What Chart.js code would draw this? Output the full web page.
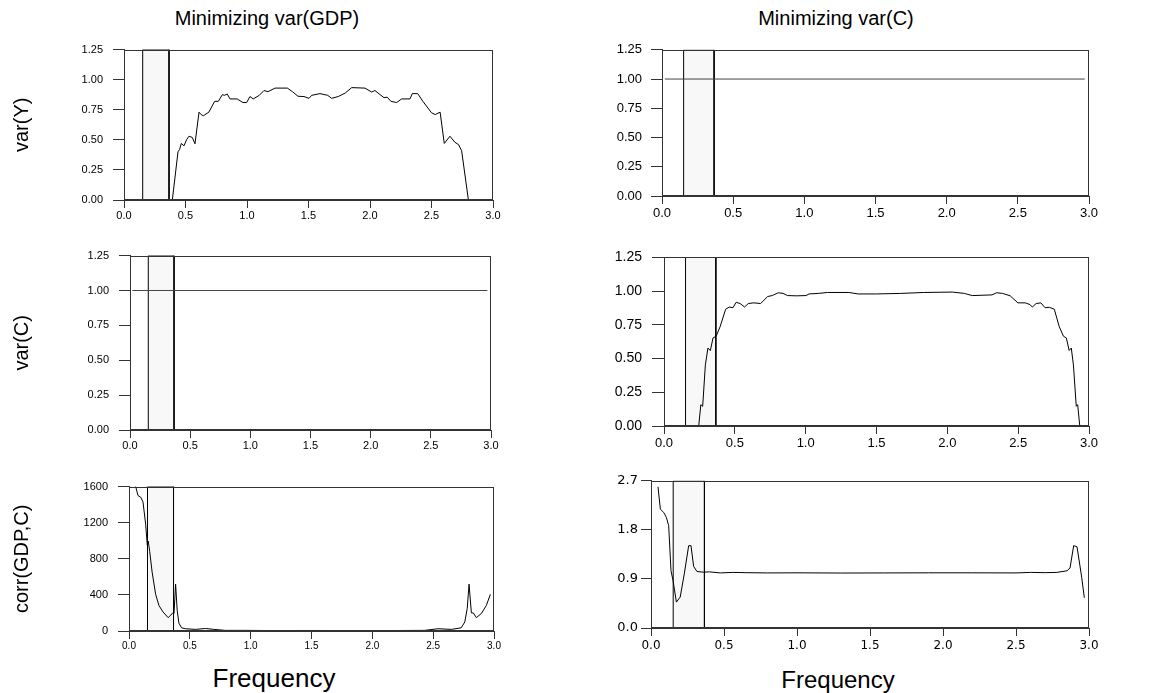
<!DOCTYPE html>
<html>
<head>
<meta charset="utf-8">
<script src="https://cdn.jsdelivr.net/npm/chart.js@4.4.1/dist/chart.umd.min.js"></script>
<style>
  html, body { margin: 0; padding: 0; background: #fff; }
  body { width: 1151px; height: 693px; position: relative; overflow: hidden; font-family: "Liberation Sans", Arial, sans-serif; }
  .panel { position: absolute; }
  .lbl { position: absolute; color: #000; white-space: nowrap; transform: translate(-50%, -50%); font-family: "Liberation Sans", Arial, sans-serif; }
</style>
</head>
<body>
<div class="lbl" style="left:267px; top:18px; font-size:20px;">Minimizing var(GDP)</div>
<div class="lbl" style="left:836px; top:18px; font-size:20px;">Minimizing var(C)</div>
<div class="lbl" style="left:274px; top:678px; font-size:26px;">Frequency</div>
<div class="lbl" style="left:838px; top:680px; font-size:24px;">Frequency</div>

<div class="panel" style="left:7px; top:33px;"><canvas id="p1" width="502" height="193"></canvas></div>
<div class="panel" style="left:592px; top:33px;"><canvas id="p2" width="513" height="189"></canvas></div>
<div class="panel" style="left:7px; top:239px;"><canvas id="p3" width="500" height="217"></canvas></div>
<div class="panel" style="left:592px; top:239px;"><canvas id="p4" width="513" height="213"></canvas></div>
<div class="panel" style="left:7px; top:470px;"><canvas id="p5" width="503" height="187"></canvas></div>
<div class="panel" style="left:592px; top:470px;"><canvas id="p6" width="513" height="184"></canvas></div>

<script>
// ---------- data ----------
const xTicks = [0, 0.5, 1.0, 1.5, 2.0, 2.5, 3.0];
const yTicksVar = [0, 0.25, 0.5, 0.75, 1.0, 1.25];
const yTicksCorrGdp = [0, 400, 800, 1200, 1600];
const yTicksCorrC = [0, 0.9, 1.8, 2.7];
const band = [0.152, 0.366];

// var(Y) when minimizing var(GDP)
const freqVarYgdp = [0.02, 0.37, 0.393, 0.439, 0.452, 0.466, 0.488, 0.508, 0.528, 0.555, 0.577, 0.61, 0.627, 0.645, 0.69, 0.737, 0.767, 0.80, 0.815, 0.84, 0.862, 0.92, 0.967, 0.997, 1.024, 1.05, 1.10, 1.138, 1.17, 1.228, 1.328, 1.37, 1.415, 1.463, 1.504, 1.526, 1.593, 1.656, 1.688, 1.742, 1.80, 1.851, 1.959, 2.014, 2.04, 2.114, 2.14, 2.17, 2.217, 2.257, 2.325, 2.344, 2.388, 2.43, 2.50, 2.53, 2.57, 2.604, 2.65, 2.69, 2.72, 2.745, 2.80, 2.97];
const varYgdp =     [0, 0, 0, 0.40, 0.42, 0.47, 0.45, 0.50, 0.53, 0.52, 0.467, 0.73, 0.71, 0.70, 0.73, 0.82, 0.82, 0.876, 0.87, 0.88, 0.84, 0.84, 0.81, 0.81, 0.86, 0.84, 0.87, 0.91, 0.90, 0.93, 0.93, 0.90, 0.862, 0.86, 0.845, 0.87, 0.884, 0.87, 0.845, 0.86, 0.89, 0.934, 0.93, 0.897, 0.91, 0.85, 0.855, 0.82, 0.81, 0.84, 0.84, 0.884, 0.884, 0.82, 0.725, 0.71, 0.73, 0.47, 0.53, 0.48, 0.46, 0.41, 0, 0];

// flat unit lines (var(Y) under min var(C), var(C) under min var(GDP))
const freqFlat = [0.02, 2.97];
const flatOne = [1.0, 1.0];

// var(C) when minimizing var(C)
const freqVarCc = [0.02, 0.245, 0.26, 0.273, 0.292, 0.31, 0.327, 0.346, 0.368, 0.396, 0.435, 0.461, 0.487, 0.509, 0.537, 0.569, 0.595, 0.634, 0.682, 0.732, 0.764, 0.807, 0.84, 0.872, 0.937, 1.002, 1.024, 1.089, 1.154, 1.305, 1.37, 1.5, 1.67, 1.833, 2.036, 2.12, 2.176, 2.315, 2.348, 2.39, 2.444, 2.498, 2.55, 2.584, 2.60, 2.627, 2.66, 2.69, 2.72, 2.755, 2.79, 2.82, 2.84, 2.86, 2.875, 2.89, 2.91, 2.92, 2.935, 2.97];
const varCc =     [0, 0, 0.158, 0.146, 0.453, 0.578, 0.559, 0.653, 0.665, 0.736, 0.866, 0.882, 0.877, 0.917, 0.908, 0.882, 0.908, 0.913, 0.908, 0.96, 0.967, 0.988, 0.983, 0.967, 0.965, 0.967, 0.979, 0.983, 0.99, 0.99, 0.979, 0.979, 0.983, 0.99, 0.993, 0.983, 0.967, 0.972, 0.988, 0.983, 0.965, 0.913, 0.913, 0.90, 0.882, 0.908, 0.913, 0.877, 0.88, 0.866, 0.736, 0.665, 0.653, 0.56, 0.578, 0.453, 0.146, 0.158, 0, 0];

// corr(GDP,C) when minimizing var(GDP)
const freqCorrGdp = [0.04, 0.055, 0.074, 0.096, 0.115, 0.137, 0.15, 0.158, 0.17, 0.19, 0.219, 0.246, 0.279, 0.322, 0.344, 0.36, 0.37, 0.383, 0.396, 0.41, 0.432, 0.464, 0.546, 0.628, 0.697, 0.79, 0.956, 1.2, 1.5, 1.8, 2.1, 2.43, 2.54, 2.65, 2.73, 2.76, 2.78, 2.795, 2.814, 2.83, 2.855, 2.896, 2.937, 2.97];
const corrGdp =     [1650, 1600, 1501, 1483, 1430, 1183, 954, 996, 883, 653, 406, 283, 212, 148, 177, 201, 195, 519, 230, 88, 35, 25, 18, 28, 18, 7, 7, 5, 6, 5, 5, 7, 25, 18, 35, 100, 250, 519, 201, 200, 148, 194, 283, 406];

// corr(GDP,C) when minimizing var(C)
const freqCorrC = [0.048, 0.064, 0.087, 0.105, 0.121, 0.137, 0.151, 0.174, 0.20, 0.228, 0.258, 0.274, 0.292, 0.315, 0.361, 0.40, 0.475, 0.56, 0.65, 0.8, 1.0, 1.3, 1.6, 1.9, 2.2, 2.5, 2.6, 2.7, 2.78, 2.85, 2.87, 2.895, 2.918, 2.95, 2.968];
const corrC =     [2.59, 2.18, 2.12, 2.03, 1.88, 1.05, 0.87, 0.475, 0.567, 0.993, 1.51, 1.51, 1.13, 1.036, 1.024, 1.03, 1.01, 1.02, 1.015, 1.01, 1.012, 1.008, 1.01, 1.012, 1.012, 1.01, 1.02, 1.015, 1.02, 1.05, 1.1, 1.51, 1.49, 0.93, 0.555];

// ---------- helpers ----------
const FONT = "'Liberation Sans', Arial, sans-serif";
const pairs = (xs, ys) => xs.map((x, i) => ({ x: x, y: ys[i] }));

const framePlugin = {
  id: 'frame',
  afterDatasetsDraw(chart, args, opts) {
    const a = chart.chartArea, c = chart.ctx;
    c.save();
    c.strokeStyle = opts.color || '#333';
    c.lineWidth = 1;
    const l = Math.round(a.left) + 0.5, t = Math.round(a.top) + 0.5;
    const r = Math.round(a.right) - 0.5, b = Math.round(a.bottom) - 0.5;
    c.strokeRect(l, t, r - l, b - t);
    c.restore();
  }
};

function makePanel(id, cfg) {
  const yMax = cfg.yTicks[cfg.yTicks.length - 1];
  const bandData = [
    { x: band[0], y: 0 }, { x: band[0], y: yMax },
    { x: band[1], y: yMax }, { x: band[1], y: 0 }
  ];
  new Chart(document.getElementById(id), {
    type: 'line',
    data: {
      datasets: [
        {
          data: pairs(cfg.fx, cfg.fy),
          borderColor: cfg.lineColor || '#000',
          borderWidth: 1,
          pointRadius: 0,
          tension: 0,
          fill: false,
          order: 1
        },
        {
          data: bandData,
          borderColor: '#000',
          borderWidth: 1,
          backgroundColor: '#f8f8f8',
          pointRadius: 0,
          tension: 0,
          fill: 'origin',
          order: 2
        }
      ]
    },
    options: {
      responsive: false,
      animation: false,
      devicePixelRatio: 1,
      events: [],
      layout: { padding: { top: 10, right: 16, left: 0, bottom: 0 } },
      plugins: { legend: { display: false }, tooltip: { enabled: false }, frame: { color: '#333' } },
      scales: {
        x: {
          type: 'linear',
          min: 0, max: 3,
          afterBuildTicks: s => { s.ticks = xTicks.map(v => ({ value: v })); },
          afterFit: s => { s.height = 26; },
          ticks: {
            autoSkip: false, maxRotation: 0, padding: cfg.xPad,
            color: '#000',
            font: { family: cfg.xFamily || FONT, size: cfg.xSize },
            callback: v => Number(v).toFixed(1)
          },
          grid: { drawOnChartArea: false, drawTicks: true, tickLength: 8, color: '#333' },
          border: { display: true, color: '#333', width: 1 }
        },
        y: {
          type: 'linear',
          min: 0, max: yMax,
          afterBuildTicks: s => { s.ticks = cfg.yTicks.map(v => ({ value: v })); },
          afterFit: s => { s.width = cfg.wy; },
          ticks: {
            autoSkip: false, padding: cfg.yPad,
            color: '#000',
            font: { family: cfg.yFamily || FONT, size: cfg.ySize },
            callback: v => Number(v).toFixed(cfg.dec)
          },
          grid: { drawOnChartArea: false, drawTicks: true, tickLength: cfg.yTick, color: '#333' },
          border: { display: true, color: '#333', width: 1 },
          title: {
            display: !!cfg.yTitle,
            text: cfg.yTitle || '',
            color: '#000',
            font: { family: FONT, size: 20, lineHeight: 1.2 },
            padding: { top: 3, bottom: 0 }
          }
        }
      }
    },
    plugins: [framePlugin]
  });
}

makePanel('p1', { fx: freqVarYgdp, fy: varYgdp, yTicks: yTicksVar, dec: 2, wy: 117, ySize: 11, xSize: 11, xPad: 1, yPad: 10, yTick: 11, yTitle: 'var(Y)' });
makePanel('p2', { fx: freqFlat, fy: flatOne, yTicks: yTicksVar, dec: 2, wy: 70, ySize: 13, xSize: 13, xPad: 2, yPad: 9, yTick: 11, lineColor: '#444' });
makePanel('p3', { fx: freqFlat, fy: flatOne, yTicks: yTicksVar, dec: 2, wy: 123, ySize: 11, xSize: 11, xPad: 1, yPad: 10, yTick: 11, yTitle: 'var(C)', lineColor: '#444' });
makePanel('p4', { fx: freqVarCc, fy: varCc, yTicks: yTicksVar, dec: 2, wy: 72, ySize: 14, xSize: 13, xPad: 2, yPad: 10, yTick: 12 });
makePanel('p5', { fx: freqCorrGdp, fy: corrGdp, yTicks: yTicksCorrGdp, dec: 0, wy: 122, ySize: 11, xSize: 10, xPad: 1, yPad: 10, yTick: 11, yTitle: 'corr(GDP,C)' });
makePanel('p6', { fx: freqCorrC, fy: corrC, yTicks: yTicksCorrC, dec: 1, wy: 59, ySize: 13, xSize: 12, xPad: 3, yPad: 3, yTick: 10, xFamily: "'DejaVu Sans', Verdana, sans-serif", yFamily: "'DejaVu Sans', Verdana, sans-serif" });
</script>
</body>
</html>
